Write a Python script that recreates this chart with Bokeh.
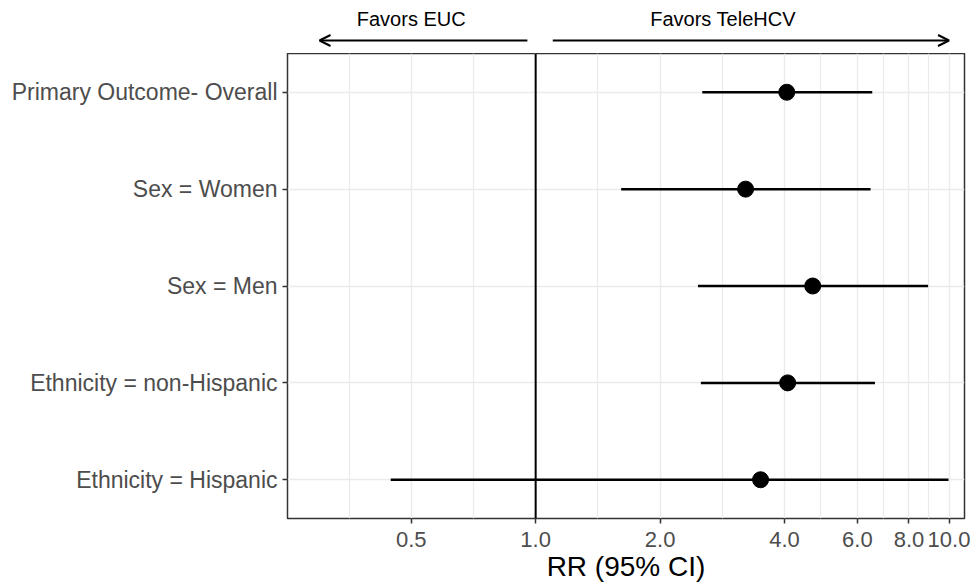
from bokeh.plotting import figure
from bokeh.layouts import column
from bokeh.models import Range1d, FixedTicker, Span, Arrow, OpenHead, Label, ColumnDataSource
from bokeh.embed import file_html
from bokeh.resources import INLINE

# ---- data ----
labels = ["Primary Outcome- Overall", "Sex = Women", "Sex = Men",
          "Ethnicity = non-Hispanic", "Ethnicity = Hispanic"]
rr = [4.05, 3.22, 4.68, 4.07, 3.50]
lower = [2.53, 1.61, 2.47, 2.51, 0.446]
upper = [6.52, 6.46, 8.90, 6.62, 9.97]

x_ticks = [0.5, 1.0, 2.0, 4.0, 6.0, 8.0, 10.0]
x_tick_labels = ["0.5", "1.0", "2.0", "4.0", "6.0", "8.0", "10.0"]
x_minor = [0.354, 0.707, 1.414, 2.828, 4.899, 6.928, 8.944]
ref_value = 1.0

arrow_texts = ["Favors EUC", "Favors TeleHCV"]
arrow_text_x = [0.5, 2.84]
arrow_starts = [0.955, 1.10]
arrow_ends = [0.30, 10.0]

n = len(labels)
ypos = [n - i for i in range(n)]

src = ColumnDataSource(dict(y=ypos, rr=rr, lo=lower, hi=upper))

FONT = "Liberation Sans"
LEFT = 287
RIGHT = 9
FW = 677

xr = Range1d(0.251, 10.9)

# ---- top strip with arrows ----
top = figure(x_axis_type="log", x_range=xr, y_range=Range1d(0, 1),
             frame_width=FW, frame_height=53, min_border_left=LEFT, min_border_right=RIGHT,
             min_border_top=0, min_border_bottom=0,
             x_axis_location=None, y_axis_location=None,
             output_backend="svg", toolbar_location=None)
top.outline_line_color = None
top.grid.visible = False
top.background_fill_color = "white"
top.border_fill_color = "white"

arrow_y = 0.245
text_y = 0.65
for t, tx, xs, xe in zip(arrow_texts, arrow_text_x, arrow_starts, arrow_ends):
    top.add_layout(Arrow(x_start=xs, y_start=arrow_y, x_end=xe, y_end=arrow_y,
                         line_color="black", line_width=2,
                         end=OpenHead(size=11, line_width=2, line_color="black")))
    top.add_layout(Label(x=tx, y=text_y, text=t, text_align="center", text_baseline="middle",
                         text_font=FONT, text_font_size="20px", text_color="black"))

# ---- main panel ----
p = figure(x_axis_type="log", x_range=xr, y_range=Range1d(0.6, 5.4),
           frame_width=FW, frame_height=465, min_border_left=LEFT, min_border_top=0,
           min_border_right=RIGHT, min_border_bottom=5,
           output_backend="svg", toolbar_location=None)

p.background_fill_color = "white"
p.border_fill_color = "white"
p.outline_line_color = "#333333"
p.outline_line_width = 1.5

p.xaxis.ticker = FixedTicker(ticks=x_ticks, minor_ticks=x_minor)
p.xaxis.major_label_overrides = {t: l for t, l in zip(x_ticks, x_tick_labels)}
p.yaxis.ticker = FixedTicker(ticks=ypos)
p.yaxis.major_label_overrides = {y: l for y, l in zip(ypos, labels)}

for ax in (p.xaxis, p.yaxis):
    ax.axis_line_color = None
    ax.major_tick_line_color = "#333333"
    ax.major_tick_line_width = 1.5
    ax.major_tick_out = 5
    ax.major_tick_in = 0
    ax.minor_tick_out = 0
    ax.minor_tick_in = 0
    ax.major_label_text_color = "#4d4d4d"
    ax.major_label_text_font = FONT
    ax.major_label_standoff = 5

p.yaxis.major_label_text_font_size = "23px"
p.xaxis.major_label_text_font_size = "22px"
p.xaxis.major_label_standoff = 8

p.xaxis.axis_label = "RR (95% CI)"
p.xaxis.axis_label_text_font = FONT
p.xaxis.axis_label_text_font_size = "28px"
p.xaxis.axis_label_text_font_style = "normal"
p.xaxis.axis_label_text_color = "black"
p.xaxis.axis_label_standoff = 1

p.xgrid.grid_line_color = "#ebebeb"
p.xgrid.grid_line_width = 1.4
p.xgrid.minor_grid_line_color = "#ebebeb"
p.xgrid.minor_grid_line_width = 1.2
p.ygrid.grid_line_color = "#ebebeb"
p.ygrid.grid_line_width = 1.4

p.add_layout(Span(location=ref_value, dimension="height", line_color="black", line_width=2))

p.segment(x0="lo", x1="hi", y0="y", y1="y", source=src, line_color="black", line_width=2.5)
p.scatter(x="rr", y="y", source=src, size=16, fill_color="black", line_color="black")

layout = column(top, p, spacing=0)
open("out.html", "w").write(file_html(layout, INLINE))
